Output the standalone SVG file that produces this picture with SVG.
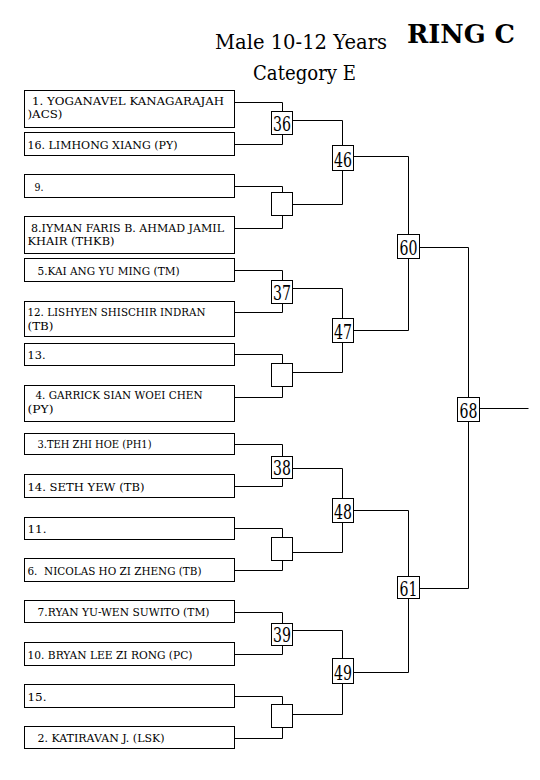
<svg xmlns="http://www.w3.org/2000/svg" width="540" height="780" viewBox="0 0 540 780">
<style>
  .bg { fill: #ffffff; }
  .box { fill: #ffffff; stroke: #000000; stroke-width: 1; }
  .ln { fill: none; stroke: #000000; stroke-width: 1; }
  .t { font-family: "DejaVu Serif", "Liberation Serif", serif; font-size: 11px; fill: #000000; white-space: pre; }
  .num { font-family: "DejaVu Serif", "Liberation Serif", serif; font-size: 19.5px; fill: #000000; text-anchor: middle; }
  .title { font-family: "DejaVu Serif", "Liberation Serif", serif; font-size: 21px; fill: #000000; }
  .ring { font-family: "DejaVu Serif", "Liberation Serif", serif; font-size: 26.5px; font-weight: bold; fill: #000000; }
</style>
<rect class="bg" x="0" y="0" width="540" height="780"/>
<g id="header">
  <text class="title" x="215" y="49" textLength="172" lengthAdjust="spacingAndGlyphs">Male 10-12 Years</text>
  <text class="title" x="253" y="80" textLength="103" lengthAdjust="spacingAndGlyphs">Category E</text>
  <text class="ring" x="407" y="43" textLength="108" lengthAdjust="spacingAndGlyphs">RING C</text>
</g>
<g transform="translate(0.5 0.5)">
<g id="connectors">
  <path class="ln" d="M234 102 H282 V111 M234 144 H282 V134 M292 120 H342 V145"/>
  <path class="ln" d="M234 186 H282 V192 M234 228 H282 V215 M292 204 H342 V170"/>
  <path class="ln" d="M353 156 H408 V234"/>
  <path class="ln" d="M234 270 H282 V280 M234 312 H282 V303 M292 288 H342 V318"/>
  <path class="ln" d="M234 354 H282 V363 M234 397 H282 V386 M292 372 H342 V342"/>
  <path class="ln" d="M353 330 H408 V258"/>
  <path class="ln" d="M419 247 H468 V397"/>
  <path class="ln" d="M234 444 H282 V456 M234 486 H282 V478 M292 468 H342 V498"/>
  <path class="ln" d="M234 528 H282 V537 M234 570 H282 V560 M292 552 H342 V522"/>
  <path class="ln" d="M353 510 H408 V576"/>
  <path class="ln" d="M234 612 H282 V623 M234 654 H282 V645 M292 630 H342 V658"/>
  <path class="ln" d="M234 696 H282 V704 M234 738 H282 V727 M292 714 H342 V683"/>
  <path class="ln" d="M353 672 H408 V598"/>
  <path class="ln" d="M419 588 H468 V421"/>
  <path class="ln" d="M479 408 H528"/>
</g>
<g id="p1"><rect class="box" x="24" y="90" width="210" height="37"/><text class="t" x="31.5" y="104.5" textLength="192" lengthAdjust="spacingAndGlyphs">1. YOGANAVEL KANAGARAJAH</text><text class="t" x="27" y="117.5" textLength="35" lengthAdjust="spacingAndGlyphs">)ACS)</text></g>
<g id="p16"><rect class="box" x="24" y="132" width="210" height="23"/><text class="t" x="27" y="148" textLength="150" lengthAdjust="spacingAndGlyphs">16. LIMHONG XIANG (PY)</text></g>
<g id="p9"><rect class="box" x="24" y="174" width="210" height="23"/><text class="t" x="34" y="190" textLength="9" lengthAdjust="spacingAndGlyphs">9.</text></g>
<g id="p8"><rect class="box" x="24" y="216" width="210" height="37"/><text class="t" x="30.5" y="231" textLength="193" lengthAdjust="spacingAndGlyphs">8.IYMAN FARIS B. AHMAD JAMIL</text><text class="t" x="27" y="244.5" textLength="87" lengthAdjust="spacingAndGlyphs">KHAIR (THKB)</text></g>
<g id="p5"><rect class="box" x="24" y="258" width="210" height="23"/><text class="t" x="37" y="274" textLength="142" lengthAdjust="spacingAndGlyphs">5.KAI ANG YU MING (TM)</text></g>
<g id="p12"><rect class="box" x="24" y="301" width="210" height="35"/><text class="t" x="27" y="315" textLength="178" lengthAdjust="spacingAndGlyphs">12. LISHYEN SHISCHIR INDRAN</text><text class="t" x="27" y="329" textLength="26" lengthAdjust="spacingAndGlyphs">(TB)</text></g>
<g id="p13"><rect class="box" x="24" y="343" width="210" height="22"/><text class="t" x="27" y="358.5" textLength="18" lengthAdjust="spacingAndGlyphs">13.</text></g>
<g id="p4"><rect class="box" x="24" y="385" width="210" height="36"/><text class="t" x="35" y="398.5" textLength="167" lengthAdjust="spacingAndGlyphs">4. GARRICK SIAN WOEI CHEN</text><text class="t" x="27" y="412" textLength="26" lengthAdjust="spacingAndGlyphs">(PY)</text></g>
<g id="p3"><rect class="box" x="24" y="433" width="210" height="21"/><text class="t" x="37" y="447.5" textLength="114" lengthAdjust="spacingAndGlyphs">3.TEH ZHI HOE (PH1)</text></g>
<g id="p14"><rect class="box" x="24" y="474" width="210" height="23"/><text class="t" x="27" y="490" textLength="117" lengthAdjust="spacingAndGlyphs">14. SETH YEW (TB)</text></g>
<g id="p11"><rect class="box" x="24" y="517" width="210" height="22"/><text class="t" x="27" y="532.5" textLength="19" lengthAdjust="spacingAndGlyphs">11.</text></g>
<g id="p6"><rect class="box" x="24" y="558" width="210" height="23"/><text class="t" x="27" y="574.5" textLength="174" lengthAdjust="spacingAndGlyphs">6.  NICOLAS HO ZI ZHENG (TB)</text></g>
<g id="p7"><rect class="box" x="24" y="600" width="210" height="22"/><text class="t" x="37" y="615.5" textLength="172" lengthAdjust="spacingAndGlyphs">7.RYAN YU-WEN SUWITO (TM)</text></g>
<g id="p10"><rect class="box" x="24" y="642" width="210" height="23"/><text class="t" x="27" y="658" textLength="165" lengthAdjust="spacingAndGlyphs">10. BRYAN LEE ZI RONG (PC)</text></g>
<g id="p15"><rect class="box" x="24" y="684" width="210" height="23"/><text class="t" x="27" y="700" textLength="19" lengthAdjust="spacingAndGlyphs">15.</text></g>
<g id="p2"><rect class="box" x="24" y="726" width="210" height="22"/><text class="t" x="37" y="741.5" textLength="127" lengthAdjust="spacingAndGlyphs">2. KATIRAVAN J. (LSK)</text></g>
<g id="m36"><rect class="box" x="271" y="111" width="21" height="23"/><text class="num" x="281.5" y="130" textLength="18" lengthAdjust="spacingAndGlyphs">36</text></g>
<g id="e1"><rect class="box" x="271" y="192" width="21" height="23"/></g>
<g id="m37"><rect class="box" x="271" y="280" width="21" height="23"/><text class="num" x="281.5" y="299" textLength="18" lengthAdjust="spacingAndGlyphs">37</text></g>
<g id="e2"><rect class="box" x="271" y="363" width="21" height="23"/></g>
<g id="m38"><rect class="box" x="271" y="456" width="21" height="22"/><text class="num" x="281.5" y="474" textLength="18" lengthAdjust="spacingAndGlyphs">38</text></g>
<g id="e3"><rect class="box" x="271" y="537" width="21" height="23"/></g>
<g id="m39"><rect class="box" x="271" y="623" width="21" height="22"/><text class="num" x="281.5" y="641" textLength="18" lengthAdjust="spacingAndGlyphs">39</text></g>
<g id="e4"><rect class="box" x="271" y="704" width="21" height="23"/></g>
<g id="m46"><rect class="box" x="332" y="145" width="21" height="25"/><text class="num" x="342.5" y="166" textLength="18" lengthAdjust="spacingAndGlyphs">46</text></g>
<g id="m47"><rect class="box" x="332" y="318" width="21" height="24"/><text class="num" x="342.5" y="338" textLength="18" lengthAdjust="spacingAndGlyphs">47</text></g>
<g id="m48"><rect class="box" x="332" y="498" width="21" height="24"/><text class="num" x="342.5" y="518" textLength="18" lengthAdjust="spacingAndGlyphs">48</text></g>
<g id="m49"><rect class="box" x="332" y="658" width="21" height="25"/><text class="num" x="342.5" y="679" textLength="18" lengthAdjust="spacingAndGlyphs">49</text></g>
<g id="m60"><rect class="box" x="397" y="234" width="22" height="24"/><text class="num" x="408" y="254" textLength="18" lengthAdjust="spacingAndGlyphs">60</text></g>
<g id="m61"><rect class="box" x="397" y="576" width="22" height="22"/><text class="num" x="408" y="595" textLength="18" lengthAdjust="spacingAndGlyphs">61</text></g>
<g id="m68"><rect class="box" x="457" y="397" width="22" height="24"/><text class="num" x="468" y="417" textLength="18" lengthAdjust="spacingAndGlyphs">68</text></g>
</g>
</svg>
